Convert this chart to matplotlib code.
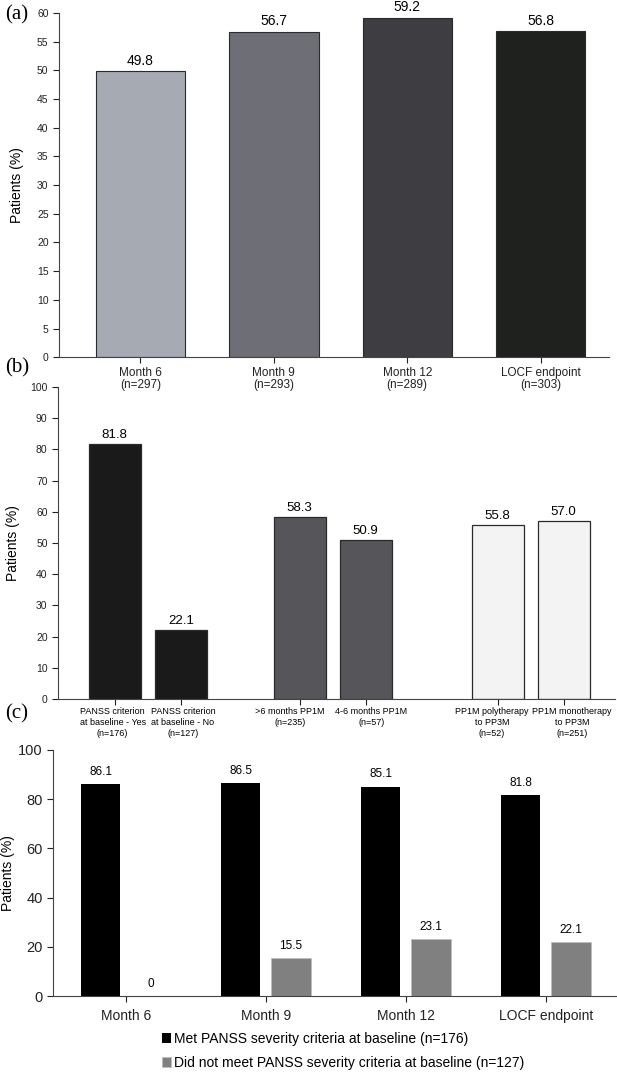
import numpy as np
import matplotlib
matplotlib.use('Agg')
import matplotlib.pyplot as plt

# panel (a)
a_labels = ['Month 6\n(n=297)', 'Month 9\n(n=293)', 'Month 12\n(n=289)', 'LOCF endpoint\n(n=303)']
a_values = [49.8, 56.7, 59.2, 56.8]
a_colors = ['#a6aab3', '#6e6e76', '#3e3e42', '#1f211f']

# panel (b)
b_labels = ['PANSS criterion\nat baseline - Yes\n(n=176)', 'PANSS criterion\nat baseline - No\n(n=127)',
            '>6 months PP1M\n(n=235)', '4-6 months PP1M\n(n=57)',
            'PP1M polytherapy\nto PP3M\n(n=52)', 'PP1M monotherapy\nto PP3M\n(n=251)']
b_values = [81.8, 22.1, 58.3, 50.9, 55.8, 57.0]
b_colors = ['#1a1a1a', '#1a1a1a', '#56555a', '#56555a', '#f3f3f3', '#f3f3f3']
b_pos = [0, 1, 2.8, 3.8, 5.8, 6.8]
b_shift = [-1.5, 1.5, -7, 4, -4, 6]  # label nudges, points

# panel (c)
c_labels = ['Month 6', 'Month 9', 'Month 12', 'LOCF endpoint']
c_met = [86.1, 86.5, 85.1, 81.8]
c_not = [0, 15.5, 23.1, 22.1]
c_series = ['Met PANSS severity criteria at baseline (n=176)',
            'Did not meet PANSS severity criteria at baseline (n=127)']

plt.rcParams['font.family'] = ['Liberation Sans', 'DejaVu Sans']

fig = plt.figure(figsize=(6.17, 10.76), dpi=100)


def style(ax):
    for s in ['top', 'right']:
        ax.spines[s].set_visible(False)
    ax.spines['left'].set_color('#444444')
    ax.spines['bottom'].set_color('#444444')
    ax.tick_params(colors='#222222', length=4, width=0.8)
    ax.patch.set_visible(False)


# (a)
ax1 = fig.add_axes([0.0956, 0.668, 0.891, 0.320])
x = np.arange(len(a_values))
ax1.bar(x, a_values, width=0.67, color=a_colors, edgecolor='#2a2a2a', linewidth=0.8)
for xi, v in zip(x, a_values):
    ax1.text(xi, v + 0.6, f'{v:.1f}', ha='center', va='bottom', fontsize=10)
ax1.set_xlim(-0.61, 3.51)
ax1.set_ylim(0, 60)
ax1.set_yticks(np.arange(0, 61, 5))
ax1.set_xticks(x)
ax1.set_xticklabels(a_labels, fontsize=8.5, linespacing=1.05)
ax1.tick_params(axis='x', length=0, pad=3)
ax1.tick_params(axis='y', labelsize=7.5)
ax1.set_ylabel('Patients (%)', fontsize=10, labelpad=9)
style(ax1)

# (b)
ax2 = fig.add_axes([0.094, 0.3504, 0.903, 0.290])
ax2.bar(b_pos, b_values, width=0.79, color=b_colors, edgecolor='#2a2a2a', linewidth=0.9)
for xi, v in zip(b_pos, b_values):
    ax2.text(xi, v + 1.0, f'{v:.1f}', ha='center', va='bottom', fontsize=9.5)
ax2.set_xlim(-0.86, 7.58)
ax2.set_ylim(0, 100)
ax2.set_yticks(np.arange(0, 101, 10))
ax2.set_xticks(b_pos)
ax2.set_xticklabels([])
for xi, lab, dx in zip(b_pos, b_labels, b_shift):
    ax2.annotate(lab, xy=(xi, 0), xycoords=('data', 'axes fraction'),
                 xytext=(dx, -6), textcoords='offset points',
                 ha='center', va='top', fontsize=6.5, linespacing=1.25)
ax2.tick_params(axis='x', length=0)
ax2.tick_params(axis='y', labelsize=7.5)
ax2.set_ylabel('Patients (%)', fontsize=10, labelpad=7)
style(ax2)

# (c)
ax3 = fig.add_axes([0.086, 0.0743, 0.912, 0.2287])
xc = np.arange(len(c_labels))
h1 = ax3.bar(xc - 0.18, c_met, width=0.28, color='#000000', label=c_series[0])
h2 = ax3.bar(xc + 0.18, c_not, width=0.28, color='#808080', edgecolor='#bdbdbd', linewidth=0.6,
             label=c_series[1])
for xi, v in zip(xc, c_met):
    ax3.text(xi - 0.18, v + 2.5, f'{v:g}', ha='center', va='bottom', fontsize=8.5)
for xi, v in zip(xc, c_not):
    ax3.text(xi + 0.18, v + 2.5, f'{v:g}', ha='center', va='bottom', fontsize=8.5)
ax3.set_xlim(-0.52, 3.5)
ax3.set_ylim(0, 100)
ax3.set_yticks(np.arange(0, 101, 20))
ax3.set_xticks(xc)
ax3.set_xticklabels(c_labels, fontsize=10)
ax3.tick_params(axis='x', length=0, pad=5)
ax3.tick_params(axis='y', labelsize=10.5, length=3)
ax3.set_ylabel('Patients (%)', fontsize=10, labelpad=2)
style(ax3)
fig.legend(handles=[h1, h2], loc='center left', bbox_to_anchor=(0.262, 0.0235),
           frameon=False, fontsize=10, handlelength=0.7, handleheight=0.7,
           handletextpad=0.2, borderpad=0, borderaxespad=0, labelspacing=0.75)

# panel letters
for lbl, yy in [('(a)', 0.986), ('(b)', 0.658), ('(c)', 0.337)]:
    fig.text(0.008, yy, lbl, fontsize=15, family='Liberation Serif', va='center', ha='left')

fig.savefig('out.png', dpi=100)
